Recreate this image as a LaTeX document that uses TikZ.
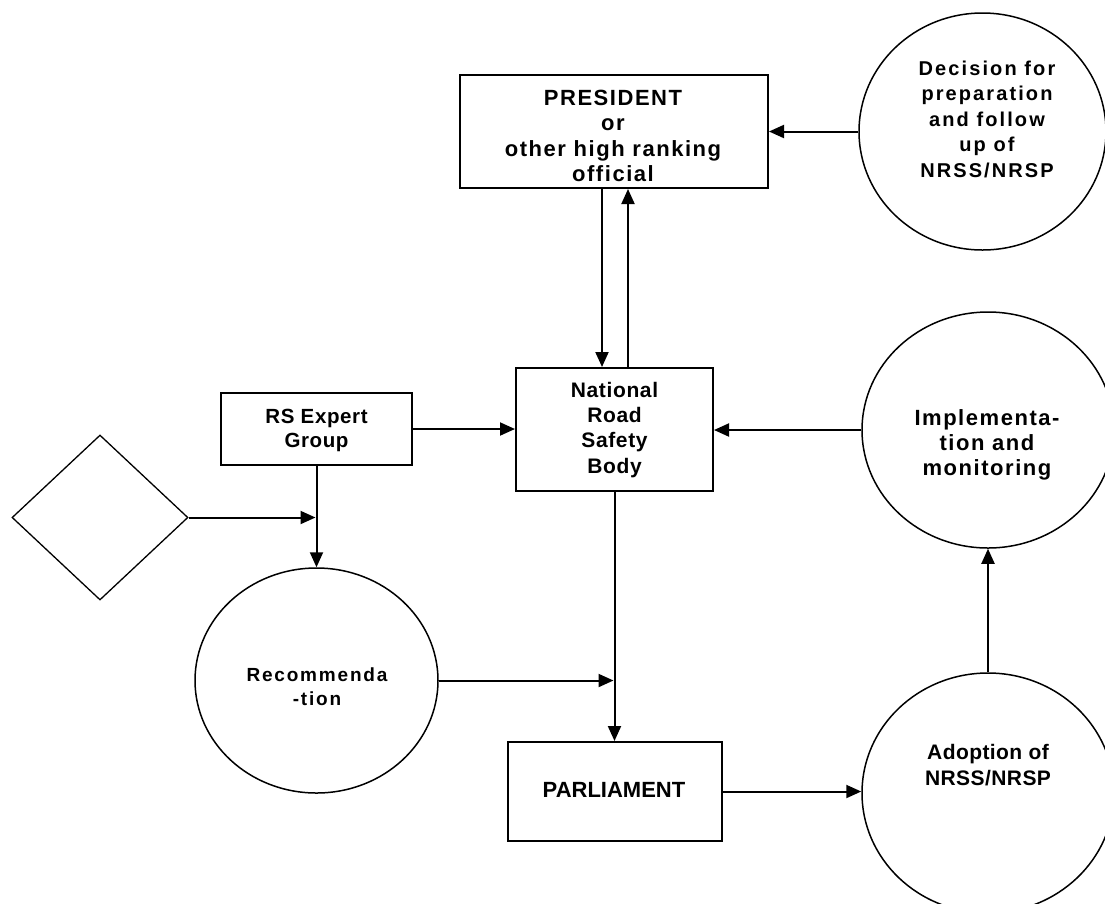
\documentclass[tikz,border=0pt]{standalone}
\usepackage{fontspec}
\setmainfont{Liberation Sans}
\usetikzlibrary{shapes.geometric,arrows.meta}

\begin{document}
\begin{tikzpicture}[x=1pt,y=-1pt,
  box/.style={draw, rectangle, line width=2pt, inner sep=0pt},
  oval/.style={draw, ellipse, line width=1.5pt, inner sep=0pt},
  rhomb/.style={draw, diamond, line width=1.3pt, inner sep=0pt},
  lbl/.style n args={3}{align=center, inner sep=0pt,
    font=\bfseries\fontsize{#1}{#2}\selectfont\addfontfeatures{LetterSpace=#3}},
  arr/.style={line width=2pt, -{Triangle[length=15pt,width=13pt]}}
]
% page area
\fill[white] (0,0) rectangle (1105,903);
\useasboundingbox (0,0) rectangle (1105,903);

% boxes
\node[box, minimum width=308pt, minimum height=113pt] (pres) at (614,131.5) {};
\node[box, minimum width=197pt, minimum height=123pt] (nrsb) at (614.5,429.5) {};
\node[box, minimum width=191pt, minimum height=72pt]  (rs)   at (316.5,429) {};
\node[box, minimum width=214pt, minimum height=99pt]  (parl) at (615,791.5) {};

% ovals
\node[oval, minimum width=247pt, minimum height=237pt] (dec)  at (982.5,131.5) {};
\node[oval, minimum width=252pt, minimum height=236pt] (impl) at (988,430) {};
\node[oval, minimum width=252pt, minimum height=240pt] (adop) at (988,793) {};
\node[oval, minimum width=243pt, minimum height=225pt] (rec)  at (316.5,680.5) {};

% decision diamond
\node[rhomb, minimum width=176pt, minimum height=165pt] (dia) at (100,517.5) {};

% labels
\node[lbl={22}{25.5}{7}]    (presT) at (613,136) {PRESIDENT\\or\\other high ranking\\official};
\node[lbl={21}{25.3}{3}]    (nrsbT) at (614.5,429.8) {National\\Road\\Safety\\Body};
\node[lbl={20.5}{24}{3}]    (rsT)   at (316.5,430) {RS Expert\\Group};
\node[lbl={20}{25.5}{10.5}] (decT)  at (987,119) {Decision for\\preparation\\and follow\\up of\\NRSS/NRSP};
\node[lbl={22}{25}{7}]      (implT) at (987,445) {Implementa-\\tion and\\monitoring};
\node[lbl={19}{24}{9.5}]    (recT)  at (317,686.5) {Recommenda\\-tion};
\node[lbl={21}{26}{2}]      (adopT) at (988,765) {Adoption of\\NRSS/NRSP};
\node[lbl={22}{25}{0}]      (parlT) at (614,789.5) {PARLIAMENT};

% vertical lanes between the president box and the national body
\coordinate (down) at (602,0);
\coordinate (up)   at (628,0);
% junctions on existing lines
\coordinate (j1) at (rs.south |- dia.east);
\coordinate (j2) at (nrsb.south |- rec.east);

% connectors
\draw[arr] (dec.west) -- (dec.west -| pres.east);
\draw[arr] (down |- pres.south) -- (down |- nrsb.north);
\draw[arr] (up |- nrsb.north) -- (up |- pres.south);
\draw[arr] (rs.east) -- (rs.east -| nrsb.west);
\draw[arr] (rs.south) -- (rec.north);
\draw[arr, shorten >=1pt] (dia.east) -- (j1);
\draw[arr, shorten >=1pt] (rec.east) -- (j2);
\draw[arr] (nrsb.south) -- (nrsb.south |- parl.north);
\draw[arr] (parl.east) -- (parl.east -| adop.west);
\draw[arr] (adop.north) -- (impl.south);
\draw[arr] (impl.west) -- (impl.west -| nrsb.east);
\end{tikzpicture}
\end{document}
